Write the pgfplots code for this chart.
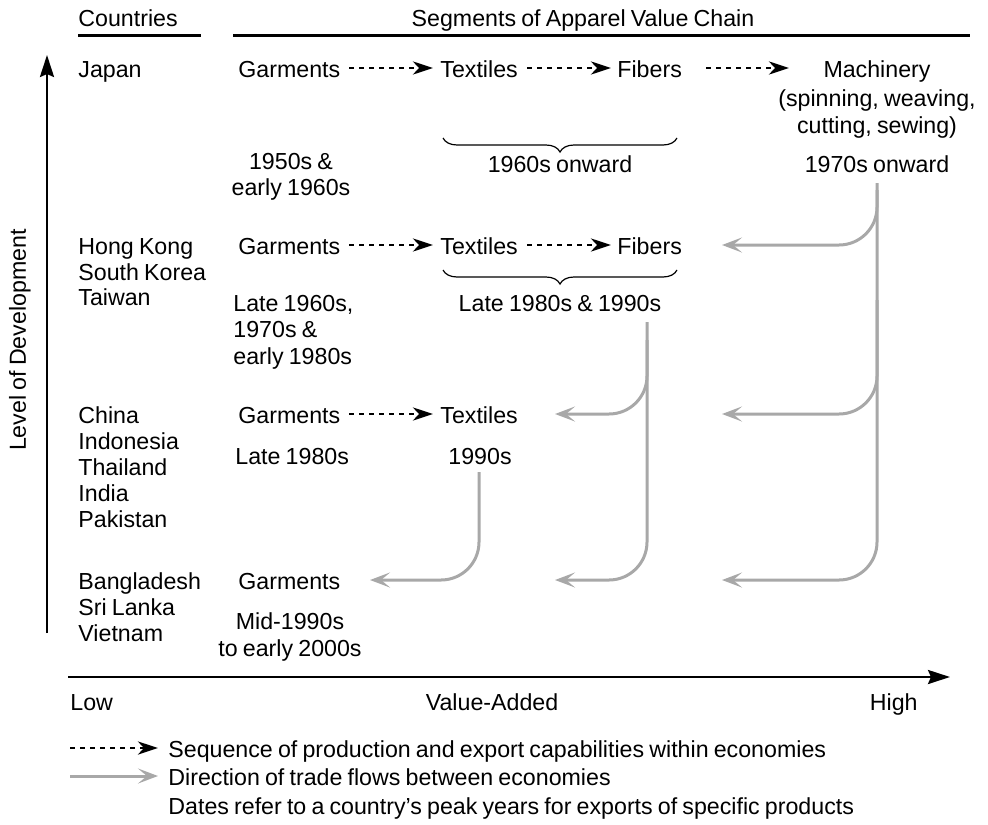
\documentclass[border=0pt]{standalone}
\usepackage{pgfplots}
\pgfplotsset{compat=1.18}
\usepackage{fontspec}
\setmainfont{Liberation Sans}[WordSpace=0.8]
\usetikzlibrary{arrows.meta,decorations.pathreplacing}
\definecolor{gr}{HTML}{A8A8A8}
\tikzset{
  blk/.style={black, line width=1.4pt, dash pattern=on 2.6pt off 2.4pt, -{Stealth[length=10pt,width=6.5pt,inset=3pt]}},
  gry/.style={gr, line width=1.5pt, rounded corners=19pt, -{Stealth[length=10pt,width=7.5pt,inset=4.5pt]}},
  lw/.style={anchor=base west, inner sep=0pt},
  lc/.style={anchor=base, inner sep=0pt},
}
\begin{document}
\begin{tikzpicture}[font=\fontsize{11.6}{14}\selectfont]
\begin{axis}[scale only axis, width=494pt, height=412pt,
  xmin=0, xmax=988, ymin=0, ymax=824, y dir=reverse,
  hide axis, clip=false,
  ]
\addplot[draw=none] coordinates {(0,0) (988,824)};
% headers
\node[lw] at (axis cs:78,27) {Countries};
\node[lc] at (axis cs:583,27) {Segments of Apparel Value Chain};
\addplot[black, line width=1.5pt] coordinates {(78,36) (201,36)};
\addplot[black, line width=1.5pt] coordinates {(233,36) (970,36)};
% axes arrows
\addplot[black, line width=1.3pt, -{Stealth[length=11pt,width=7pt,inset=1.5pt]}] coordinates {(47,633) (47,55)};
\addplot[black, line width=1.3pt, -{Stealth[length=11pt,width=7pt,inset=1.5pt]}] coordinates {(68,677) (950,677)};
\node[rotate=90, anchor=center, inner sep=0pt] at (axis cs:20,340) {Level of Development};
\node[lw] at (axis cs:70,710) {Low};
\node[lc] at (axis cs:492,710) {Value-Added};
\node[anchor=base east, inner sep=0pt] at (axis cs:918,710) {High};
% countries
\node[lw] at (axis cs:78,77) {Japan};
\node[lw] at (axis cs:78,254) {Hong Kong};
\node[lw] at (axis cs:78,280) {South Korea};
\node[lw] at (axis cs:78,305) {Taiwan};
\node[lw] at (axis cs:78,423) {China};
\node[lw] at (axis cs:78,449) {Indonesia};
\node[lw] at (axis cs:78,475) {Thailand};
\node[lw] at (axis cs:78,501) {India};
\node[lw] at (axis cs:78,527) {Pakistan};
\node[lw] at (axis cs:78,589) {Bangladesh};
\node[lw] at (axis cs:78,615) {Sri Lanka};
\node[lw] at (axis cs:78,641) {Vietnam};
% row 1
\node[lw] at (axis cs:238,77) {Garments};
\node[lw] at (axis cs:440,77) {Textiles};
\node[lw] at (axis cs:617,77) {Fibers};
\addplot[blk] coordinates {(349,68) (433,68)};
\addplot[blk] coordinates {(527,68) (611,68)};
\addplot[blk] coordinates {(706,68) (789,68)};
\node[lc] at (axis cs:877,77) {Machinery};
\node[lc] at (axis cs:877,106) {(spinning, weaving,};
\node[lc] at (axis cs:877,133) {cutting, sewing)};
\addplot[black, line width=0.6pt, decorate, decoration={brace, mirror, amplitude=7pt}] coordinates {(443,138) (677,138)};
\node[lc] at (axis cs:560,172) {1960s onward};
\node[lc] at (axis cs:291,169) {1950s \&};
\node[lc] at (axis cs:291,195) {early 1960s};
\node[lc] at (axis cs:877,172) {1970s onward};
% row 2
\node[lw] at (axis cs:238,254) {Garments};
\node[lw] at (axis cs:440,254) {Textiles};
\node[lw] at (axis cs:617,254) {Fibers};
\addplot[blk] coordinates {(349,245) (433,245)};
\addplot[blk] coordinates {(527,245) (611,245)};
\addplot[black, line width=0.6pt, decorate, decoration={brace, mirror, amplitude=7pt}] coordinates {(443,270) (677,270)};
\node[lc] at (axis cs:560,311) {Late 1980s \& 1990s};
\node[lw] at (axis cs:233,311) {Late 1960s,};
\node[lw] at (axis cs:233,337) {1970s \&};
\node[lw] at (axis cs:233,364) {early 1980s};
% row 3
\node[lw] at (axis cs:238,423) {Garments};
\node[lw] at (axis cs:440,423) {Textiles};
\addplot[blk] coordinates {(349,414) (433,414)};
\node[lw] at (axis cs:235,464) {Late 1980s};
\node[lc] at (axis cs:480,464) {1990s};
% row 4
\node[lw] at (axis cs:238,589) {Garments};
\node[lc] at (axis cs:290,629) {Mid-1990s};
\node[lc] at (axis cs:290,656) {to early 2000s};
% gray trade flows
\addplot[gry] coordinates {(877,183) (877,580) (722,580)};
\addplot[gry] coordinates {(877,190) (877,245) (722,245)};
\addplot[gry] coordinates {(877,300) (877,414) (722,414)};
\addplot[gry] coordinates {(647,322) (647,580) (555,580)};
\addplot[gry] coordinates {(647,340) (647,414) (555,414)};
\addplot[gry] coordinates {(479,472) (479,580) (370,580)};
% legend
\addplot[black, line width=1.4pt, dash pattern=on 2.6pt off 2.4pt, -{Stealth[length=10pt,width=6.5pt,inset=3pt]}] coordinates {(70,748) (158,748)};
\addplot[gr, line width=1.5pt, -{Stealth[length=10pt,width=7.5pt,inset=4.5pt]}] coordinates {(70,776) (158,776)};
\node[lw] at (axis cs:168,757) {Sequence of production and export capabilities within economies};
\node[lw] at (axis cs:168,785) {Direction of trade flows between economies};
\node[lw] at (axis cs:168,814) {Dates refer to a country’s peak years for exports of specific products};
\end{axis}
\end{tikzpicture}
\end{document}
